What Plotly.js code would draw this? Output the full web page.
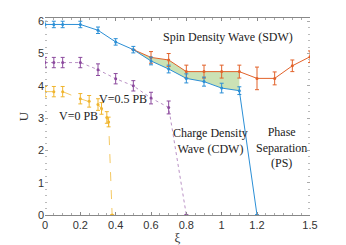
<!DOCTYPE html>
<html><head><meta charset="utf-8">
<script src="https://cdn.plot.ly/plotly-3.0.1.min.js"></script>
<style>body{margin:0;background:#fff}#c{width:346px;height:245px}</style>
</head><body><div id="c"></div>
<script>
const sdwX = [0, 0.05, 0.1, 0.2, 0.3, 0.4, 0.5, 0.6, 0.7, 0.8, 0.9, 1.0, 1.1, 1.2];
const sdwY = [5.9, 5.9, 5.9, 5.9, 5.72, 5.36, 5.12, 4.77, 4.52, 4.23, 4.13, 3.93, 3.85, 0];
const sdwE = [0.1, 0.1, 0.1, 0.1, 0.1, 0.1, 0.1, 0.12, 0.12, 0.14, 0.14, 0.15, 0.12, 0];

const psX = [0.5, 0.6, 0.7, 0.8, 0.9, 1.0, 1.1, 1.2, 1.3, 1.4, 1.5];
const psY = [5.12, 4.88, 4.8, 4.44, 4.44, 4.44, 4.44, 4.23, 4.23, 4.62, 4.9];
const psE = [0, 0.18, 0.2, 0.2, 0.2, 0.2, 0.2, 0.35, 0.2, 0.18, 0.18];

const v05X = [0, 0.05, 0.1, 0.2, 0.3, 0.4, 0.5, 0.6, 0.7, 0.8];
const v05Y = [4.72, 4.72, 4.72, 4.72, 4.5, 4.22, 4.0, 3.62, 3.33, 0];
const v05E = [0.16, 0.16, 0.16, 0.16, 0.18, 0.16, 0.16, 0.18, 0.2, 0];

const v0X = [0, 0.05, 0.1, 0.2, 0.25, 0.3, 0.32, 0.35, 0.36, 0.38];
const v0Y = [3.82, 3.82, 3.82, 3.6, 3.52, 3.42, 3.3, 3.02, 2.88, 0];
const v0E = [0.16, 0.16, 0.16, 0.16, 0.18, 0.18, 0.18, 0.18, 0.15, 0];

const shadeX = [0.5, 0.6, 0.7, 0.8, 0.9, 1.0, 1.1];

const blue = '#2b8fd6', orange = '#e2622a', purple = '#8c4a9e', yellow = '#f0b52e';

function sub(xs, ys, keep){ return keep.map(x => ys[xs.indexOf(x)]); }

const traces = [
  {x: shadeX, y: sub(psX, psY, shadeX), mode:'lines', line:{width:0}, hoverinfo:'skip', showlegend:false},
  {x: shadeX, y: sub(sdwX, sdwY, shadeX), mode:'lines', line:{width:0}, fill:'tonexty', fillcolor:'rgba(140,190,90,0.45)', hoverinfo:'skip', showlegend:false},
  {x: v0X, y: v0Y, mode:'lines', line:{color:'rgba(240,181,46,0.75)', width:1, dash:'dash'}, hoverinfo:'skip'},
  {x: v0X, y: v0Y, mode:'markers', marker:{color:yellow, size:3},
   error_y:{type:'data', array:v0E, color:yellow, thickness:1, width:2}},
  {x: v05X, y: v05Y, mode:'lines', line:{color:'rgba(140,74,158,0.6)', width:1, dash:'dot'}, hoverinfo:'skip'},
  {x: v05X, y: v05Y, mode:'markers', marker:{color:purple, size:3},
   error_y:{type:'data', array:v05E, color:purple, thickness:1, width:2}},
  {x: psX, y: psY, mode:'lines+markers', line:{color:orange, width:1}, marker:{color:orange, size:3},
   error_y:{type:'data', array:psE, color:orange, thickness:1, width:2}},
  {x: sdwX, y: sdwY, mode:'lines+markers', line:{color:blue, width:1}, marker:{color:blue, size:3},
   error_y:{type:'data', array:sdwE, color:blue, thickness:1, width:2}}
];

const serif = {family:'Liberation Serif, DejaVu Serif, serif', size:12, color:'#222'};
const annotations = [
  {x:1.035, y:5.5, text:'Spin Density Wave (SDW)'},
  {x:0.44, y:3.6, text:'V=0.5 PB'},
  {x:0.19, y:3.06, text:'V=0 PB'},
  {x:0.935, y:2.3, text:'Charge Density<br>Wave (CDW)'},
  {x:1.34, y:2.08, text:'Phase<br>Separation<br>(PS)'}
].map(a => Object.assign({xref:'x', yref:'y', showarrow:false, font:serif, align:'center'}, a));

const layout = {
  width:346, height:245,
  margin:{l:45, r:36, t:18, b:30},
  paper_bgcolor:'#fff', plot_bgcolor:'#fff',
  showlegend:false,
  font:{family:'Liberation Sans, Arial, sans-serif', size:11, color:'#333'},
  xaxis:{range:[0,1.5], tickvals:[0,0.2,0.4,0.6,0.8,1,1.2,1.5], ticktext:['0','0.2','0.4','0.6','0.8','1','1.2','1.5'],
    showgrid:false, zeroline:false, showline:true, linecolor:'#888', linewidth:1,
    ticks:'inside', ticklen:3, tickcolor:'#888', mirror:'ticks',
    minor:{dtick:0.05, ticks:'inside', ticklen:2, tickcolor:'#aaa'},
    title:{text:'ξ', font:{family:'Liberation Serif, serif', size:13, color:'#333'}, standoff:4}},
  yaxis:{range:[0,6.1], dtick:1, showgrid:false, zeroline:false, showline:false,
    ticks:'inside', ticklen:3, tickcolor:'#aaa', mirror:'ticks',
    minor:{dtick:0.2, ticks:'inside', ticklen:2, tickcolor:'#bbb'},
    title:{text:'U', font:{family:'Liberation Serif, serif', size:13, color:'#333'}, standoff:6}},
  annotations
};
Plotly.newPlot('c', traces, layout, {staticPlot:true, displayModeBar:false});
</script></body></html>
